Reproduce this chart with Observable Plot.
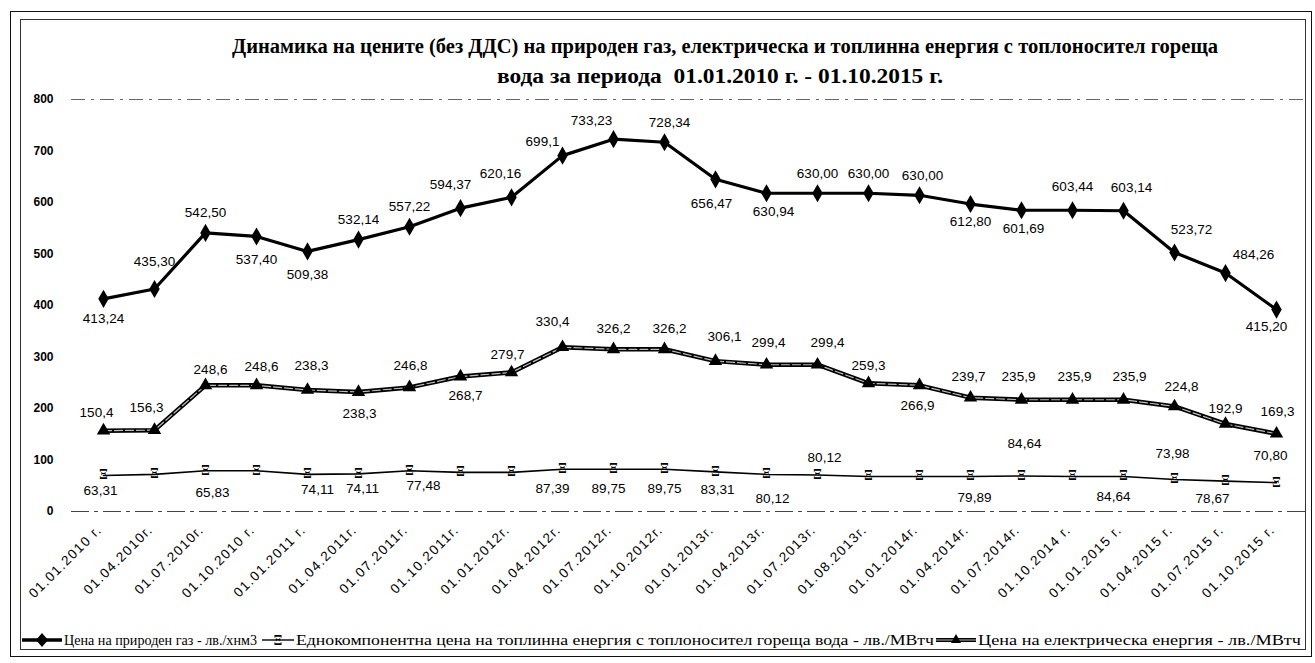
<!DOCTYPE html>
<html>
<head>
<meta charset="utf-8">
<script src="https://cdn.jsdelivr.net/npm/d3@7"></script>
<script src="https://cdn.jsdelivr.net/npm/@observablehq/plot@0.6"></script>
<style>
  html, body { margin: 0; padding: 0; background: #fff; }
  body { width: 1315px; height: 663px; position: relative; overflow: hidden; font-family: "Liberation Sans", Arial, sans-serif; }
  #title { height: 90px; box-sizing: border-box; padding-top: 31px; position: relative;
           font-family: "Liberation Serif", "Times New Roman", serif; font-weight: bold; font-size: 20.5px; line-height: 30px; color: #000; }
  #title .line { position: absolute; white-space: nowrap; transform-origin: 0 50%; }
  #chart svg { display: block; }
  #chart g[aria-label="x-axis tick label"] text { letter-spacing: 1.4px; }
  #legend { position: relative; height: 43px; font-family: "Liberation Serif", "Times New Roman", serif; font-size: 15.5px; color: #000; }
  #legend .item { position: absolute; top: 11px; white-space: nowrap; display: flex; align-items: center; }
  #legend .item span { display: inline-block; transform-origin: 0 50%; }
  #legend svg { margin-right: 2px; }
  .frame { position: absolute; pointer-events: none; box-sizing: border-box; }
</style>
</head>
<body>
<div id="title"></div>
<div id="chart"></div>
<div id="legend"></div>
<div class="frame" style="left:10px;top:11px;width:1302px;height:646px;border:1.5px solid #111;"></div>
<div class="frame" style="left:20px;top:19px;width:1286px;height:631px;border:1px solid #333;"></div>
<script>
// ---- data ----
const titleLines = [
  "Динамика на цените (без ДДС) на природен газ, електрическа и топлинна енергия с топлоносител гореща",
  "вода за периода\u00a0 01.01.2010 г. - 01.10.2015 г."
];
const categories = [
  "01.01.2010 г.", "01.04.2010г.", "01.07.2010г.", "01.10.2010 г.", "01.01.2011 г.", "01.04.2011г.",
  "01.07.2011г.", "01.10.2011г.", "01.01.2012г.", "01.04.2012г.", "01.07.2012г.", "01.10.2012г.",
  "01.01.2013г.", "01.04.2013г.", "01.07.2013г.", "01.08.2013г.", "01.01.2014г.", "01.04.2014г.",
  "01.07.2014г.", "01.10.2014 г.", "01.01.2015 г.", "01.04.2015 г.", "01.07.2015 г.", "01.10.2015 г."
];
const seriesNames = [
  "Цена на природен газ - лв./хнм3",
  "Еднокомпонентна цена на топлинна енергия с топлоносител гореща вода  - лв./МВтч",
  "Цена на електрическа енергия - лв./МВтч"
];
// plotted positions
const gasValues = [413, 432, 541, 534, 505, 528, 553, 589, 610, 691, 723, 717,
                   645, 618, 618, 618, 614, 597, 585, 585, 584, 503, 463, 392];
const heatValues = [70, 72, 79, 79, 72, 73, 79, 76, 76, 82, 82, 82,
                    77, 72, 71, 68, 68, 68, 69, 68, 68, 62, 59, 56];
const elecValues = [157, 158, 245, 245, 236, 232, 241, 262, 270, 319, 315, 315,
                    292, 285, 285, 249, 245, 221, 217, 217, 217, 204, 170, 151];
// data label texts as printed
const gasLabels = ["413,24", "435,30", "542,50", "537,40", "509,38", "532,14", "557,22", "594,37", "620,16", "699,1", "733,23", "728,34",
                   "656,47", "630,94", "630,00", "630,00", "630,00", "612,80", "601,69", "603,44", "603,14", "523,72", "484,26", "415,20"];
const elecLabels = ["150,4", "156,3", "248,6", "248,6", "238,3", "238,3", "246,8", "268,7", "279,7", "330,4", "326,2", "326,2",
                    "306,1", "299,4", "299,4", "259,3", "266,9", "239,7", "235,9", "235,9", "235,9", "224,8", "192,9", "169,3"];
const heatLabels = ["63,31", null, "65,83", null, "74,11", "74,11", "77,48", null, null, "87,39", "89,75", "89,75",
                    "83,31", "80,12", "80,12", null, null, "79,89", "84,64", null, "84,64", "73,98", "78,67", "70,80"];
const yTicks = [0, 100, 200, 300, 400, 500, 600, 700, 800];

// ---- label placement (pixel offsets from the point) ----
const gasOffsets = [[0,20],[0,-27],[0,-20],[0,23],[0,23],[0,-20],[0,-20],[-10,-23],[-11,-24],[-20,-14],[-22,-18],[5,-20],
                    [-4,24],[7,18],[0,-20],[0,-20],[3,-20],[0,18],[2,18],[0,-24],[8,-23],[17,-23],[28,-18],[-10,17]];
const elecOffsets = [[-7,-18],[-8,-22],[5,-16],[5,-19],[4,-24],[1,22],[1,-22],[5,19],[-4,-18],[-10,-26],[0,-21],[5,-21],
                     [9,-24],[2,-22],[10,-22],[0,-18],[-2,20],[-2,-21],[-3,-23],[2,-23],[6,-23],[7,-20],[0,-15],[1,-22]];
const heatOffsets = [[-3,15],null,[7,22],null,[10,15],[4,15],[14,15],null,null,[-10,19],[-5,19],[0,19],
                     [2,18],[6,24],[7,-17],null,null,[4,21],[3,-32],null,[-10,20],[-2,-26],[-13,18],[-6,-27]];

// ---- title ----
const titleBox = [[232, 986], [497, 446]]; // left, width
const titleEl = document.getElementById("title");
titleLines.forEach((t, i) => {
  const s = document.createElement("span");
  s.className = "line";
  s.textContent = t;
  s.style.top = (31 + i * 30) + "px";
  s.style.left = titleBox[i][0] + "px";
  titleEl.appendChild(s);
  const w = s.getBoundingClientRect().width;
  s.style.transform = "scaleX(" + (titleBox[i][1] / w) + ")";
});

// ---- tables ----
const mk = (vals) => categories.map((c, i) => ({cat: c, value: vals[i]}));
const gasRows = mk(gasValues), heatRows = mk(heatValues), elecRows = mk(elecValues);
function labelRows(vals, labels, offs) {
  const rows = [];
  categories.forEach((c, i) => { if (labels[i] != null) rows.push({cat: c, value: vals[i], label: labels[i], dx: offs[i][0], dy: offs[i][1]}); });
  return rows;
}
const allLabels = [
  ...labelRows(gasValues, gasLabels, gasOffsets),
  ...labelRows(elecValues, elecLabels, elecOffsets),
  ...labelRows(heatValues, heatLabels, heatOffsets)
];
const labelMarks = d3.groups(allLabels, d => d.dx + "," + d.dy).map(([k, rows]) =>
  Plot.text(rows, {x: "cat", y: "value", text: "label", dx: rows[0].dx, dy: rows[0].dy,
                   fontSize: 13.5, fill: "#000", fontFamily: "Liberation Sans, Arial, sans-serif"}));

const chart = Plot.plot({
  width: 1315, height: 530,
  marginLeft: 71, marginRight: 8, marginTop: 9, marginBottom: 109,
  style: {fontFamily: "Liberation Sans, Arial, sans-serif", background: "transparent", color: "#000"},
  x: {type: "point", domain: categories, padding: 0.5},
  y: {domain: [0, 800]},
  marks: [
    Plot.ruleY([800], {stroke: "#666", strokeWidth: 1, strokeDasharray: "14,6,3,6"}),
    Plot.ruleY([0], {stroke: "#444", strokeWidth: 1.2, strokeDasharray: "18,5,4,5"}),
    Plot.axisY({ticks: yTicks, tickSize: 0, tickPadding: 18, fontSize: 12, fontWeight: "bold", label: null}),
    Plot.axisX({tickRotate: -45, tickSize: 0, tickPadding: 16, dx: -4, fontSize: 13.5, label: null}),
    // heat
    Plot.line(heatRows, {x: "cat", y: "value", stroke: "#000", strokeWidth: 1.6}),
    Plot.text(heatRows, {x: "cat", y: "value", text: () => "Ξ", fontSize: 12, fontWeight: "bold", fill: "#000", fontFamily: "DejaVu Serif, serif"}),
    // electricity
    Plot.line(elecRows, {x: "cat", y: "value", stroke: "#000", strokeWidth: 4.5}),
    Plot.line(elecRows, {x: "cat", y: "value", stroke: "#bbb", strokeWidth: 1.2, strokeDasharray: "8,3"}),
    Plot.dot(elecRows, {x: "cat", y: "value", symbol: "triangle", r: 5, fill: "#000"}),
    // gas
    Plot.line(gasRows, {x: "cat", y: "value", stroke: "#000", strokeWidth: 3.2}),
    Plot.dot(gasRows, {x: "cat", y: "value", symbol: "diamond", r: 5.5, fill: "#000"}),
    ...labelMarks
  ]
});
document.getElementById("chart").appendChild(chart);

// ---- legend ----
const legend = document.getElementById("legend");
const icons = [
  '<svg width="40" height="16"><line x1="0" y1="8" x2="40" y2="8" stroke="#000" stroke-width="3.5"/><path d="M20 1 L26 8 L20 15 L14 8 Z" fill="#000"/></svg>',
  '<svg width="32" height="16"><line x1="0" y1="8" x2="32" y2="8" stroke="#000" stroke-width="1.4"/><text x="16" y="12.5" text-anchor="middle" font-size="12" font-weight="bold" font-family="DejaVu Serif, serif">Ξ</text></svg>',
  '<svg width="40" height="16"><line x1="0" y1="8" x2="40" y2="8" stroke="#000" stroke-width="4"/><line x1="0" y1="8" x2="40" y2="8" stroke="#bbb" stroke-width="1.1"/><path d="M20 2 L25 11 L15 11 Z" fill="#000"/></svg>'
];
const legendX = [22, 262, 936];
const legendTextW = [193, 638, 323];
seriesNames.forEach((name, i) => {
  const d = document.createElement("div");
  d.className = "item";
  d.style.left = legendX[i] + "px";
  d.innerHTML = icons[i] + "<span>" + name + "</span>";
  legend.appendChild(d);
  const sp = d.querySelector("span");
  const w = sp.getBoundingClientRect().width;
  sp.style.transform = "scaleX(" + (legendTextW[i] / w) + ")";
});
</script>
</body>
</html>
